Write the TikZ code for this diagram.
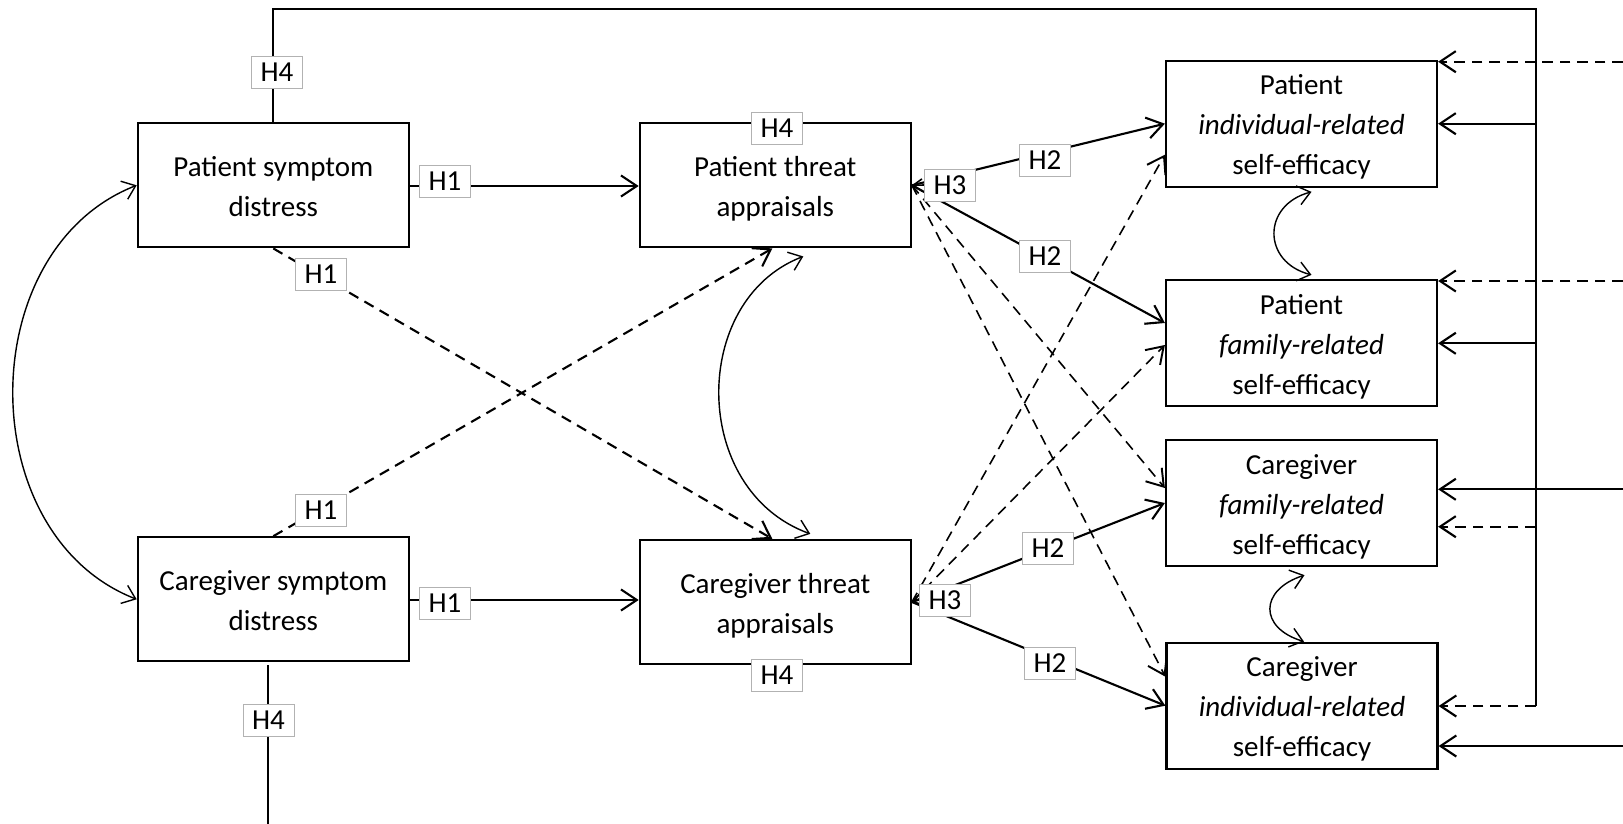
\documentclass[tikz,border=0pt]{standalone}
\usepackage{fontspec}
\setmainfont{Carlito}
\usetikzlibrary{arrows.meta,backgrounds,calc}
\newcommand\firstln{\strut\rule{0pt}{19.5pt}}
\begin{document}
\begin{tikzpicture}[x=0.02cm,y=-0.02cm,
  box/.style={draw, line width=1.3pt, minimum width=5.42cm, minimum height=2.48cm, inner sep=0pt, align=center, font=\fontsize{16.5}{22.7}\selectfont},
  hlab/.style={draw=black!30, fill=white, line width=0.5pt, minimum width=1.02cm, minimum height=0.64cm, inner sep=0pt, font=\fontsize{16.5}{18}\selectfont},
  conn/.style={line width=1.2pt, -{Straight Barb[length=9pt,width=12pt]}},
  plain/.style={line width=1.2pt},
  dsh/.style={dash pattern=on 6pt off 4pt},
  thindash/.style={line width=0.9pt, dash pattern=on 6pt off 4pt, -{Straight Barb[length=9pt,width=12pt,line width=1.1pt]}},
  curve/.style={line width=0.8pt, {Straight Barb[length=7pt,width=11pt]}-{Straight Barb[length=7pt,width=11pt]}},
  smalltip/.style={line width=0.9pt, -{Straight Barb[length=5pt,width=7pt]}}
]
\useasboundingbox (0,0) rectangle (1623,824);

% boxes
\node[box] (PSD) at (273.3,185.3) {\firstln Patient symptom\\\strut distress};
\node[box] (PTA) at (775.3,185.3) {\firstln Patient threat\\\strut appraisals};
\node[box] (CSD) at (273.3,599.3) {\firstln Caregiver symptom\\\strut distress};
\node[box] (CTA) at (775.3,602) {\firstln Caregiver threat\\\strut appraisals};
\node[box] (PISE) at (1301.5,123.7) {\firstln Patient\\\strut\textit{individual-related}\\\strut self-efficacy};
\node[box] (PFSE) at (1301.5,343) {\firstln Patient\\\strut\textit{family-related}\\\strut self-efficacy};
\node[box] (CFSE) at (1301.5,503) {\firstln Caregiver\\\strut\textit{family-related}\\\strut self-efficacy};
\node[box] (CISE) at (1302,705.7) {\firstln Caregiver\\\strut\textit{individual-related}\\\strut self-efficacy};

% labels
\node[hlab] (h4a) at (277,72.5) {H4};
\node[hlab] (h1a) at (445,181.5) {H1};
\node[hlab] (h1b) at (321,274) {H1};
\node[hlab] (h4b) at (777,128) {H4};
\node[hlab] (h3a) at (950,185) {H3};
\node[hlab] (h2a) at (1045,160) {H2};
\node[hlab] (h2b) at (1045,256) {H2};
\node[hlab] (h1c) at (321,510.5) {H1};
\node[hlab] (h1d) at (445,603.5) {H1};
\node[hlab] (h4c) at (777,675) {H4};
\node[hlab] (h4d) at (268.5,720) {H4};
\node[hlab] (h3b) at (945,600) {H3};
\node[hlab] (h2c) at (1048,548) {H2};
\node[hlab] (h2d) at (1050,663) {H2};

% helper coordinates
\coordinate (tr) at (1536,9);
\coordinate (rb) at (1536,706);
\coordinate (b1) at (1536,123.7);
\coordinate (b2) at (1536,343.3);
\coordinate (b3) at (1536,526.7);
\coordinate (e1) at (1623,61.7);
\coordinate (e2) at (1623,281);
\coordinate (e3) at (1623,489.3);
\coordinate (e4) at (1623,746);
\coordinate (cs1) at ($(CSD.south)+(-5,3)$);
\coordinate (cs2) at (268.3,824);

\begin{pgfonlayer}{background}
% H4 paths
\draw[plain] (PSD.north) |- (tr) -- (rb);
\draw[conn] (b1) -- (b1 -| PISE.east);
\draw[conn] (b2) -- (b2 -| PFSE.east);
\draw[conn,dsh] (b3) -- (b3 -| CFSE.east);
\draw[conn,dsh] (rb) -- (rb -| CISE.east);
\draw[conn,dsh] (e1) -- (e1 -| PISE.east);
\draw[conn,dsh] (e2) -- (e2 -| PFSE.east);
\draw[conn] (e3) -- (e3 -| CFSE.east);
\draw[conn] (e4) -- (e4 -| CISE.east);
\draw[line width=1pt] (cs1) -- (cs2);

% H1 paths
\draw[conn] (PSD.east |- 0,186) -- (PTA.west |- 0,186);
\draw[conn] (CSD.east |- 0,600) -- (CTA.west |- 0,600);
\draw[conn,dsh] (PSD.south) -- ($(CTA.north)+(-3,0)$);
\draw[conn,dsh] (CSD.north) -- ($(PTA.south)+(-3,0)$);

% covariances
\draw[curve] (PSD.west) .. controls (-28,250) and (-28,535) .. (CSD.west);
\draw[curve] ($(PTA.south)+(28,8)$) .. controls (690,300) and (690,490) .. ($(CTA.north)+(35,-5)$);
\draw[curve] ($(PISE.south)+(10,4)$) .. controls (1262,205) and (1262,262) .. ($(PFSE.north)+(10,-4)$);
\draw[curve] ($(CFSE.south)+(3,8)$) .. controls (1259,590) and (1259,628) .. ($(CISE.north)+(2,0)$);

% H2/H3 paths from patient threat appraisals
\draw[smalltip] (h3a.west) -- (PTA.east);
\draw[conn] (PTA.east) -- (PISE.west);
\draw[conn] (PTA.east) -- ($(PFSE.west)+(0,-20)$);
\draw[thindash] (PTA.east) -- ($(CFSE.west)+(0,-15)$);
\draw[thindash] (PTA.east) -- ($(CISE.west)+(0,-29)$);

% H2/H3 paths from caregiver threat appraisals
\draw[smalltip] (h3b.west) -- (CTA.east);
\draw[conn] (CTA.east) -- (CFSE.west);
\draw[conn] (CTA.east) -- (CISE.west);
\draw[thindash] (CTA.east) -- ($(PISE.west)+(0,31)$);
\draw[thindash] (CTA.east) -- ($(PFSE.west)+(0,2)$);
\end{pgfonlayer}
\end{tikzpicture}
\end{document}
